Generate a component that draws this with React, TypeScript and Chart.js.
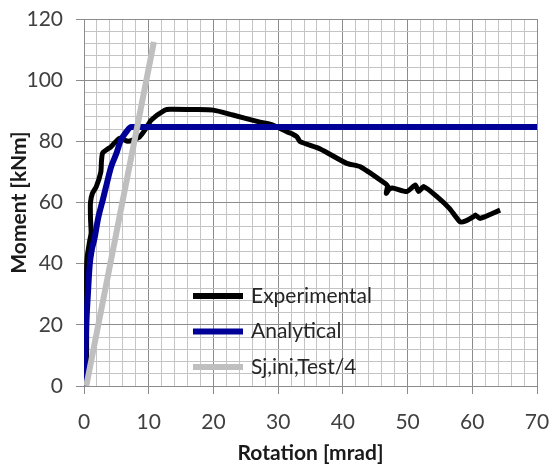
import { useEffect, useRef } from 'react';
import { Chart, registerables } from 'chart.js';

Chart.register(...registerables);

// Experimental curve (rotation [mrad], moment [kNm])
const expRot = [0.3, 0.4, 0.4, 0.4, 0.5, 0.9, 1.1, 1.0, 1.0, 1.3, 1.9, 2.6, 2.7, 2.9, 4.2, 5.5, 6.8, 7.6, 8.6, 9.5, 10.4, 12.5, 13.3, 17, 20, 23, 27.2, 29, 31.5, 32.2, 32.9, 33.4, 36.5, 40.6, 42.7, 46.5, 46.9, 46.7, 47.2, 47.8, 49.9, 51.2, 51.7, 52.5, 54.5, 56.5, 58.1, 59.0, 60.2, 60.5, 61.2, 64.3];
const expMom = [0, 10, 25, 38, 42.3, 47.7, 50, 55, 60, 63, 65.2, 70, 73.5, 76.2, 78.3, 81, 80, 80.5, 81.5, 84, 87, 90.2, 90.5, 90.4, 90.2, 88.6, 86.3, 85.5, 83, 82.4, 81.5, 79.9, 77.5, 72.8, 71.7, 66.3, 65.5, 63, 64.4, 64.7, 63.6, 65.7, 63.6, 65.2, 62, 58, 53.7, 54.0, 55.4, 55.9, 54.8, 57.5];

// Analytical curve
const anaRot = [0, 0.2, 0.36, 0.6, 0.88, 1.2, 1.6, 2.2, 2.9, 3.5, 4.2, 5.0, 5.7, 6.5, 7.3, 8, 70];
const anaMom = [0, 10, 20.6, 30, 39.6, 44.5, 48, 55, 60.8, 66, 71.7, 76, 80.4, 83, 84.7, 84.7, 84.7];

// Sj,ini,Test/4 line
const sjRot = [0.35, 10.8];
const sjMom = [0, 112.5];

const seriesLabels = ['Experimental', 'Analytical', 'Sj,ini,Test/4'];
const seriesColors = ['#000000', '#000099', '#BFBFBF'];

const xMin = 0, xMax = 70, xStep = 2, xMajor = 10;
const yMin = 0, yMax = 120, yStep = 4, yMajor = 20;

const toPts = (xs: number[], ys: number[]) => xs.map((x, i) => ({ x, y: ys[i] }));

const FONT = 'Lato, "Open Sans", sans-serif';
const MAJOR = '#8c8c8c';
const MINOR = '#c4c4c4';

const insideLegend = {
  id: 'insideLegend',
  afterDatasetsDraw(chart: any) {
    const { ctx, chartArea } = chart;
    const x0 = chartArea.left + 109;
    const y0 = chartArea.top + 277;
    const gap = 35.5;
    ctx.save();
    chart.data.datasets.forEach((ds: any, i: number) => {
      const y = y0 + i * gap;
      ctx.beginPath();
      ctx.strokeStyle = ds.borderColor;
      ctx.lineWidth = 6;
      ctx.lineCap = 'butt';
      ctx.moveTo(x0, y);
      ctx.lineTo(x0 + 50, y);
      ctx.stroke();
      ctx.fillStyle = '#262626';
      ctx.font = `21px ${FONT}`;
      ctx.textBaseline = 'middle';
      ctx.textAlign = 'left';
      ctx.fillText(ds.label, x0 + 58, y);
    });
    ctx.restore();
  },
};

export default function App() {
  const ref = useRef<HTMLCanvasElement>(null);
  useEffect(() => {
    document.body.style.margin = '0';
    const chart = new Chart(ref.current!, {
      type: 'scatter',
      data: {
        datasets: [
          {
            label: seriesLabels[0],
            data: toPts(expRot, expMom),
            showLine: true,
            borderColor: seriesColors[0],
            backgroundColor: seriesColors[0],
            borderWidth: 5,
            pointRadius: 0,
            tension: 0.2,
            order: 3,
          },
          {
            label: seriesLabels[1],
            data: toPts(anaRot, anaMom),
            showLine: true,
            borderColor: seriesColors[1],
            backgroundColor: seriesColors[1],
            borderWidth: 6,
            pointRadius: 0,
            cubicInterpolationMode: 'monotone',
            order: 2,
          },
          {
            label: seriesLabels[2],
            data: toPts(sjRot, sjMom),
            showLine: true,
            borderColor: seriesColors[2],
            backgroundColor: seriesColors[2],
            borderWidth: 6,
            pointRadius: 0,
            order: 1,
          },
        ],
      } as any,
      options: {
        animation: false,
        responsive: false,
        layout: { padding: 0 },
        plugins: {
          legend: { display: false },
          tooltip: { enabled: false },
        },
        scales: {
          x: {
            type: 'linear',
            min: xMin,
            max: xMax,
            afterFit: (s: any) => {
              s.height = 82;
              s.paddingLeft = 0;
              s.paddingRight = 16;
            },
            border: { color: MAJOR, width: 1 },
            grid: {
              color: (c: any) => (c.tick && c.tick.value % xMajor === 0 ? MAJOR : MINOR),
              tickColor: (c: any) => (c.tick && c.tick.value % xMajor === 0 ? MAJOR : 'transparent'),
              tickLength: 8,
              lineWidth: 1,
            },
            ticks: {
              stepSize: xStep,
              autoSkip: false,
              maxRotation: 0,
              padding: 16,
              color: '#404040',
              font: { family: FONT, size: 21 },
              callback: (v: any) => (Number(v) % xMajor === 0 ? String(v) : ''),
            },
            title: {
              display: true,
              text: 'Rotation [mrad]',
              color: '#1a1a1a',
              font: { family: FONT, size: 21, weight: 'bold' },
              padding: { top: 0, bottom: 2 },
            },
          },
          y: {
            type: 'linear',
            min: yMin,
            max: yMax,
            afterFit: (s: any) => {
              s.width = 84;
              s.paddingTop = 19;
              s.paddingBottom = 0;
            },
            border: { color: MAJOR, width: 1 },
            grid: {
              color: (c: any) => (c.tick && c.tick.value % yMajor === 0 ? MAJOR : MINOR),
              tickColor: (c: any) => (c.tick && c.tick.value % yMajor === 0 ? MAJOR : 'transparent'),
              tickLength: 8,
              lineWidth: 1,
            },
            ticks: {
              stepSize: yStep,
              autoSkip: false,
              padding: 13,
              color: '#404040',
              font: { family: FONT, size: 21 },
              callback: (v: any) => (Number(v) % yMajor === 0 ? String(v) : ''),
            },
            title: {
              display: true,
              text: 'Moment [kNm]',
              color: '#1a1a1a',
              font: { family: FONT, size: 21, weight: 'bold' },
              padding: { top: 7, bottom: 0 },
            },
          },
        },
      } as any,
      plugins: [insideLegend],
    });
    return () => chart.destroy();
  }, []);
  return (
    <div style={{ width: 553, height: 468 }}>
      <canvas ref={ref} width={553} height={468} style={{ display: 'block' }} />
    </div>
  );
}
